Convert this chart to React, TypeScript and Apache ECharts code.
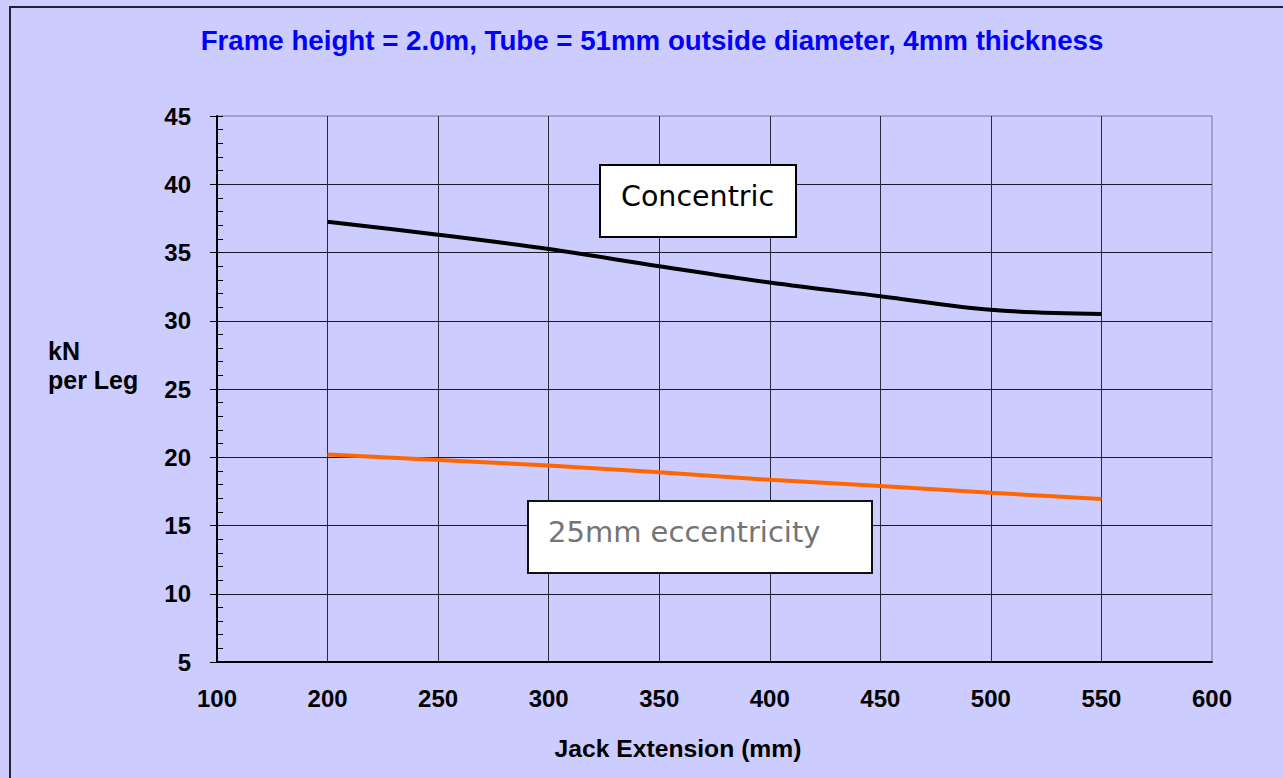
import React, { useEffect, useRef } from "react";
import * as echarts from "echarts";

const xLabels = ["100", "200", "250", "300", "350", "400", "450", "500", "550", "600"];
const concentric: (number | string)[] = ["-", 37.25, 36.3, 35.25, 34.0, 32.8, 31.8, 30.8, 30.5, "-"];
const eccentric: (number | string)[] = ["-", 20.2, 19.8, 19.4, 18.9, 18.35, 17.9, 17.4, 16.95, "-"];
const titleText = "Frame height = 2.0m, Tube = 51mm outside diameter, 4mm thickness";
const yName = ["kN", "per Leg"];
const xName = "Jack Extension (mm)";
const label1 = "Concentric";
const label2 = "25mm eccentricity";

const SANS = "'Liberation Sans', Arial, Helvetica, sans-serif";
const VERD = "'DejaVu Sans', Verdana, sans-serif";

export default function App() {
  const ref = useRef<HTMLDivElement>(null);
  useEffect(() => {
    document.body.style.margin = "0";
    document.body.style.background = "#CCCCFF";
    const chart = echarts.init(ref.current!, null, { renderer: "svg" });
    chart.setOption({
      animation: false,
      backgroundColor: "#CCCCFF",
      grid: {
        left: 217,
        right: 71,
        top: 116,
        bottom: 116,
        show: true,
        borderColor: "#767690",
        borderWidth: 1,
        backgroundColor: "transparent",
      },
      xAxis: {
        type: "category",
        data: xLabels,
        boundaryGap: false,
        axisLine: { show: true, lineStyle: { color: "#000", width: 2 } },
        axisTick: { show: false },
        axisLabel: {
          color: "#000",
          fontFamily: SANS,
          fontWeight: "bold",
          fontSize: 24,
          margin: 24,
          interval: 0,
        },
        splitLine: { show: true, showMaxLine: false, lineStyle: { color: "#2a2a3a", width: 1 } },
      },
      yAxis: [
        {
          type: "value",
          min: 5,
          max: 45,
          interval: 5,
          axisLine: { show: true, lineStyle: { color: "#000", width: 2 } },
          axisTick: { show: true, inside: false, length: 7, lineStyle: { color: "#000", width: 1 } },
          axisLabel: {
            color: "#000",
            fontFamily: SANS,
            fontWeight: "bold",
            fontSize: 24,
            margin: 26,
          },
          splitLine: { show: true, showMaxLine: false, lineStyle: { color: "#1a1a2a", width: 1 } },
        },
        {
          type: "value",
          position: "left",
          min: 5,
          max: 45,
          interval: 1,
          axisLine: { show: false },
          axisTick: { show: true, inside: true, length: 6, lineStyle: { color: "#000", width: 1 } },
          axisLabel: { show: false },
          splitLine: { show: false },
        },
      ],
      series: [
        {
          type: "line",
          data: concentric,
          smooth: 0.35,
          showSymbol: false,
          lineStyle: { color: "#000", width: 4 },
          z: 5,
        },
        {
          type: "line",
          data: eccentric,
          smooth: false,
          showSymbol: false,
          lineStyle: { color: "#FF6600", width: 4 },
          z: 5,
        },
      ],
      graphic: [
        {
          type: "rect",
          shape: { x: 10, y: 7, width: 1400, height: 900 },
          style: { fill: "none", stroke: "#222233", lineWidth: 2 },
          silent: true,
        },
        {
          type: "text",
          x: 652,
          y: 40,
          style: {
            text: titleText,
            fill: "#0000FF",
            font: `bold 27.7px ${SANS}`,
            textAlign: "center",
            textVerticalAlign: "middle",
          },
        },
        {
          type: "text",
          x: 48,
          y: 351,
          style: {
            text: yName[0],
            fill: "#000",
            font: `bold 25px ${SANS}`,
            textAlign: "left",
            textVerticalAlign: "middle",
          },
        },
        {
          type: "text",
          x: 48,
          y: 380,
          style: {
            text: yName[1],
            fill: "#000",
            font: `bold 25px ${SANS}`,
            textAlign: "left",
            textVerticalAlign: "middle",
          },
        },
        {
          type: "text",
          x: 678,
          y: 748,
          style: {
            text: xName,
            fill: "#000",
            font: `bold 24.7px ${SANS}`,
            textAlign: "center",
            textVerticalAlign: "middle",
          },
        },
        {
          type: "rect",
          z: 100,
          shape: { x: 600, y: 165, width: 196, height: 72 },
          style: { fill: "#fff", stroke: "#000", lineWidth: 2 },
        },
        {
          type: "text",
          z: 101,
          x: 621,
          y: 196,
          style: {
            text: label1,
            fill: "#000",
            font: `28.5px ${VERD}`,
            textAlign: "left",
            textVerticalAlign: "middle",
          },
        },
        {
          type: "rect",
          z: 100,
          shape: { x: 528, y: 501, width: 344, height: 72 },
          style: { fill: "#fff", stroke: "#111", lineWidth: 2 },
        },
        {
          type: "text",
          z: 101,
          x: 548,
          y: 532,
          style: {
            text: label2,
            fill: "#747474",
            font: `29px ${VERD}`,
            textAlign: "left",
            textVerticalAlign: "middle",
          },
        },
      ],
    });
    return () => chart.dispose();
  }, []);
  return <div ref={ref} style={{ width: 1283, height: 778 }} />;
}
